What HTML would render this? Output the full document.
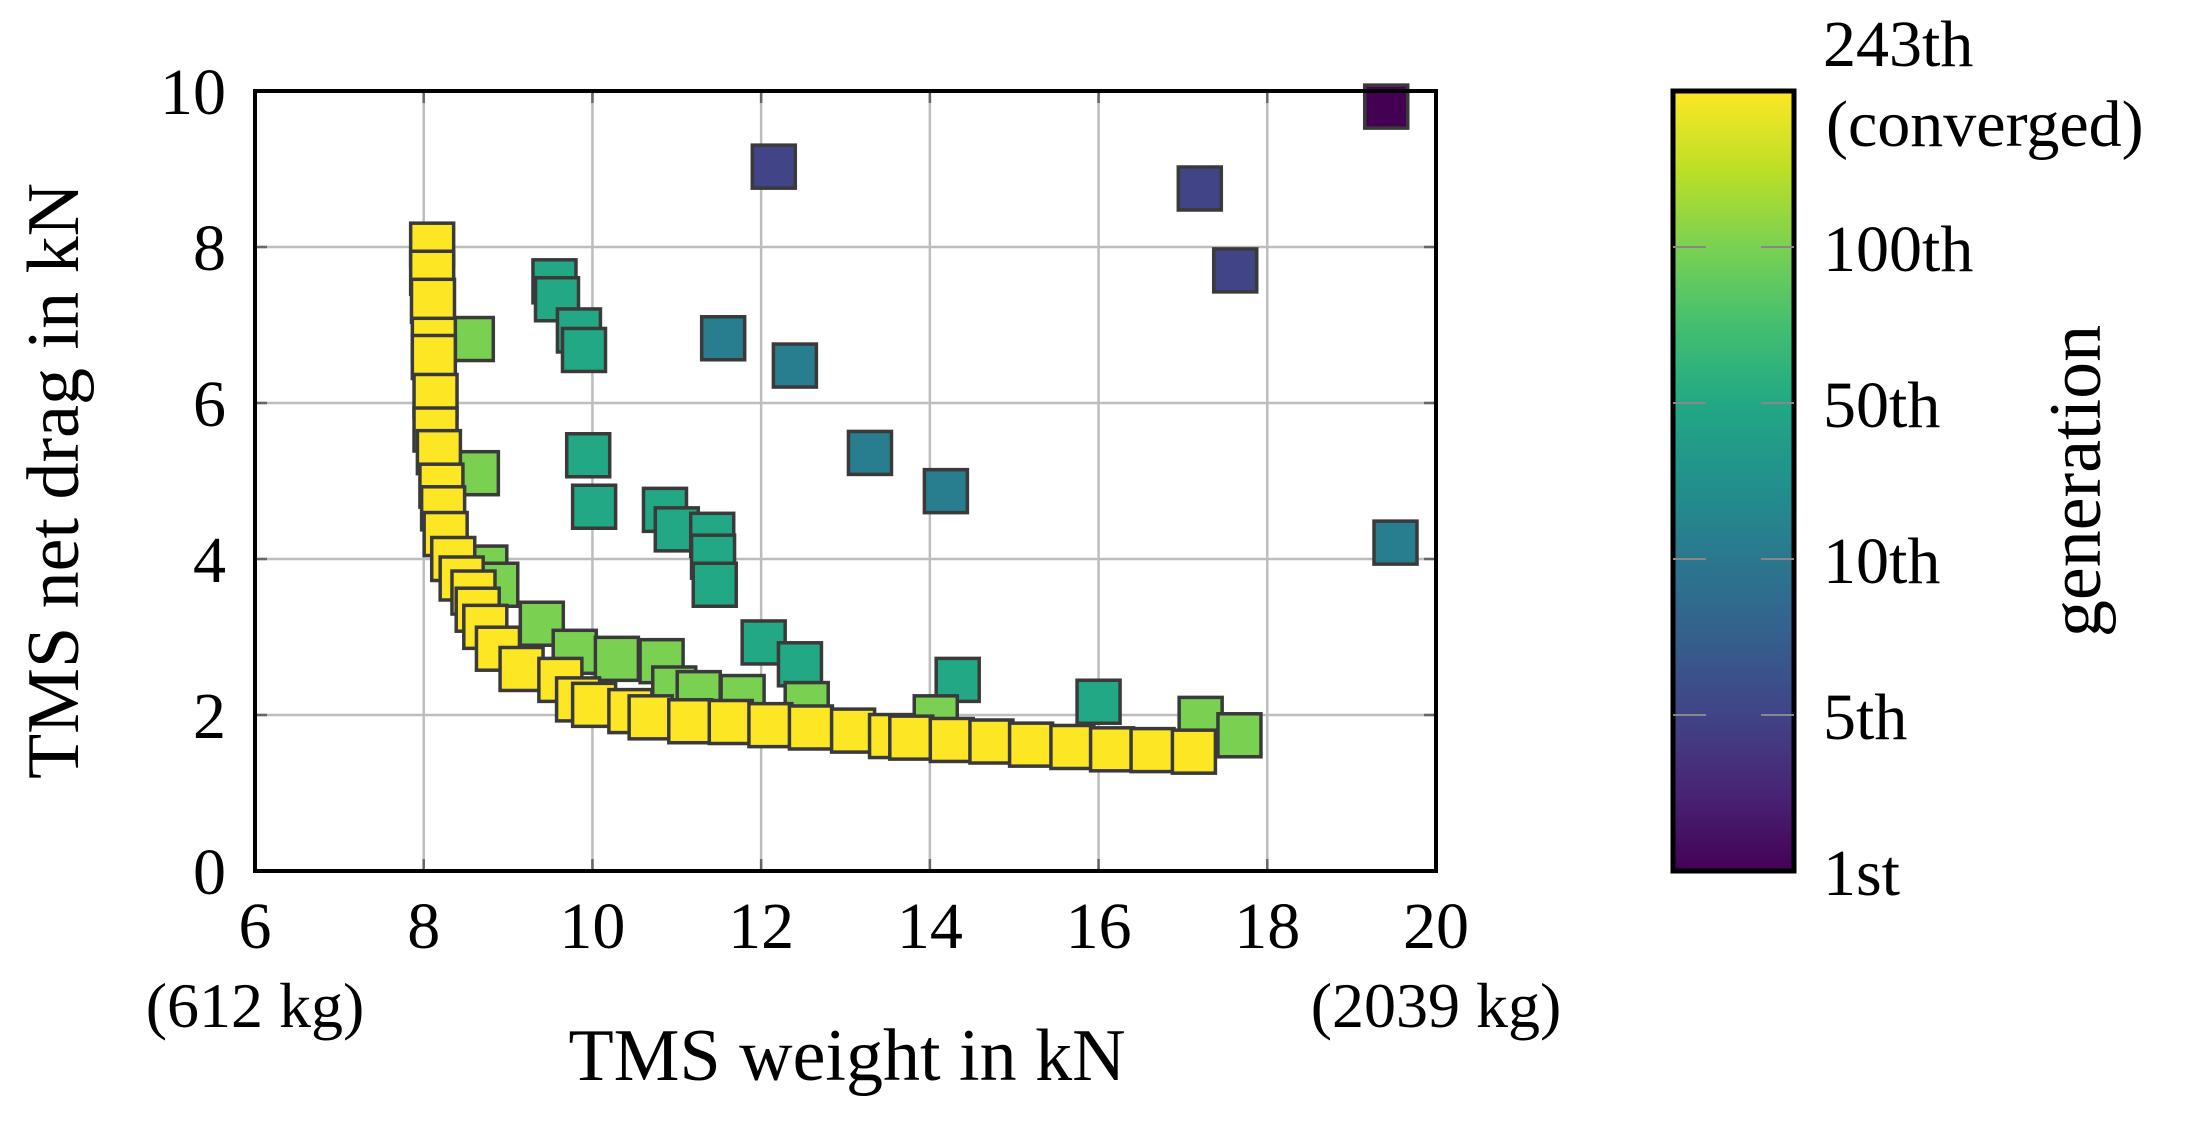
<!DOCTYPE html>
<html><head><meta charset="utf-8"><style>
html,body{margin:0;padding:0;background:#fff;}
svg{display:block;font-family:"Liberation Serif",serif;}
</style></head><body>
<svg id="chart" width="2199" height="1122" viewBox="0 0 2199 1122">
<defs>
<linearGradient id="vir" x1="0" y1="1" x2="0" y2="0">
<stop offset="0" stop-color="#440154"/><stop offset="0.1" stop-color="#482475"/><stop offset="0.2" stop-color="#414487"/><stop offset="0.3" stop-color="#355f8d"/><stop offset="0.4" stop-color="#2a788e"/><stop offset="0.5" stop-color="#21918c"/><stop offset="0.6" stop-color="#22a884"/><stop offset="0.7" stop-color="#44bf70"/><stop offset="0.8" stop-color="#7ad151"/><stop offset="0.9" stop-color="#bddf26"/><stop offset="1" stop-color="#fde725"/>
</linearGradient>
</defs>
<g id="grid"></g>
<g id="marks"></g>
<g id="axes"></g>
</svg>
<script>
const xTicks = [6,8,10,12,14,16,18,20];
const yTicks = [0,2,4,6,8,10];
const cbTicks = [1,5,10,50,100,243];
const cbLabels = ["1st","5th","10th","50th","100th","243th"];
const xs = [19.41,12.15,17.2,17.62, 11.55,12.4,13.29,14.19,19.52,
 9.55,9.58,9.84,9.9,9.95,10.02,10.86,11.0,11.42,11.43,11.45,12.03,12.46,14.33,16.0,
 8.57,8.63,8.73,8.86,9.4,9.79,10.29,10.82,10.97,11.26,11.78,12.54,14.07,17.21,17.67,
 8.1,8.1,8.11,8.12,8.12,8.14,8.14,8.18,8.21,8.23,8.26,8.35,8.45,8.59,8.64,8.73,8.88,9.16,9.62,9.83,10.02,10.45,10.69,11.16,11.64,12.11,12.59,13.09,13.54,13.78,14.26,14.73,15.2,15.69,16.16,16.64,17.13];
const ys = [9.80,9.03,8.75,7.70, 6.83,6.48,5.36,4.87,4.21,
 7.56,7.33,6.93,6.68,5.33,4.67,4.63,4.38,4.31,4.03,3.67,2.93,2.65,2.45,2.17,
 6.82,5.10,3.89,3.67,3.17,2.81,2.72,2.69,2.34,2.28,2.23,2.14,1.97,1.95,1.74,
 8.03,7.67,7.31,6.81,6.59,6.09,5.66,5.37,4.94,4.65,4.32,4.0,3.75,3.57,3.35,3.13,2.85,2.59,2.45,2.2,2.13,2.05,1.97,1.92,1.91,1.87,1.84,1.8,1.73,1.71,1.68,1.66,1.62,1.59,1.56,1.55,1.53];
const gens = [1,5,5,5, 14,14,14,14,14,
 50,50,50,50,50,50,50,50,50,50,50,50,50,50,50,
 100,100,100,100,100,100,100,100,100,100,100,100,100,100,100,
 243,243,243,243,243,243,243,243,243,243,243,243,243,243,243,243,243,243,243,243,243,243,243,243,243,243,243,243,243,243,243,243,243,243,243,243,243];

const L=255,R=1436,T=91,B=871;
const sx=v=>L+(v-6)/(20-6)*(R-L);
const sy=v=>B-(v/10)*(B-T);
const NS="http://www.w3.org/2000/svg";
function mk(tag,attrs,parent){const e=document.createElementNS(NS,tag);for(const k in attrs)e.setAttribute(k,attrs[k]);parent.appendChild(e);return e;}
const vir=[[68,1,84],[72,36,117],[65,68,135],[53,95,141],[42,120,142],[33,145,140],[34,168,132],[68,191,112],[122,209,81],[189,223,38],[253,231,37]];
function genFrac(g){for(let i=0;i<cbTicks.length-1;i++){if(g<=cbTicks[i+1]){return (i+(g-cbTicks[i])/(cbTicks[i+1]-cbTicks[i]))/(cbTicks.length-1);}}return 1;}
function color(f){const p=f*10,i=Math.min(9,Math.floor(p)),t=p-i;const a=vir[i],b=vir[i+1];return `rgb(${a.map((v,k)=>Math.round(v+(b[k]-v)*t)).join(',')})`;}

const grid=document.getElementById('grid'),marks=document.getElementById('marks'),axes=document.getElementById('axes');
xTicks.forEach(t=>{const x=sx(t);
 const g=mk('line',{x1:x,x2:x,y1:T,y2:B,stroke:'#bdbdbd','stroke-width':2.5},grid);
 
 
 mk('line',{x1:x,x2:x,y1:B,y2:B-12,stroke:'#666','stroke-width':2.5},grid);
 mk('line',{x1:x,x2:x,y1:T,y2:T+12,stroke:'#666','stroke-width':2.5},grid);
 const tx=mk('text',{x:x,y:948,'font-size':66,'text-anchor':'middle',fill:'#000'},axes);tx.textContent=t;
 
 
});
yTicks.forEach(t=>{const y=sy(t);
 const g=mk('line',{x1:L,x2:R,y1:y,y2:y,stroke:'#bdbdbd','stroke-width':2.5},grid);
 
 
 mk('line',{x1:L,x2:L+12,y1:y,y2:y,stroke:'#666','stroke-width':2.5},grid);
 mk('line',{x1:R,x2:R-12,y1:y,y2:y,stroke:'#666','stroke-width':2.5},grid);
 const tx=mk('text',{x:226,y:y+23,'font-size':66,'text-anchor':'end',fill:'#000'},axes);tx.textContent=t;
 
 
});
const S=43;
const order=xs.map((_,i)=>i).sort((a,b)=>gens[a]-gens[b]);
order.forEach(i=>{
 const r=mk('rect',{x:sx(xs[i])-S/2,y:sy(ys[i])-S/2,width:S,height:S,fill:color(genFrac(gens[i])),stroke:'#3a3a3a','stroke-width':3.5},marks);
 
 
});
const fr=mk('rect',{x:L,y:T,width:R-L,height:B-T,fill:'none',stroke:'#000','stroke-width':4},axes);


function txt(s,attrs,name){const e=mk('text',Object.assign({fill:'#000'},attrs),axes);e.textContent=s;
 
 return e;}
txt('(612 kg)',{x:255,y:1027,'font-size':64,'text-anchor':'middle'},'x-min-mass-label');
txt('(2039 kg)',{x:1436,y:1027,'font-size':64,'text-anchor':'middle'},'x-max-mass-label');
txt('TMS weight in kN',{x:847,y:1080,'font-size':74,'text-anchor':'middle'},'x-axis-title');
txt('TMS net drag in kN',{x:0,y:0,'font-size':74,'text-anchor':'middle',transform:'translate(78,481) rotate(-90)'},'y-axis-title');
const CL=1673,CR=1794;
const cb=mk('rect',{x:CL,y:T,width:CR-CL,height:B-T,fill:'url(#vir)',stroke:'#000','stroke-width':5},axes);


cbTicks.forEach((g,i)=>{const y=B-genFrac(g)*(B-T);
 if(i>0&&i<cbTicks.length-1){mk('line',{x1:CL,x2:CL+33,y1:y,y2:y,stroke:'#888','stroke-width':2},axes);mk('line',{x1:CR-33,x2:CR,y1:y,y2:y,stroke:'#888','stroke-width':2},axes);}
 const ty = i===cbTicks.length-1 ? 66 : y+24;
 txt(cbLabels[i],{x:1823,y:ty,'font-size':66},'colorbar-tick-label');
});
txt('(converged)',{x:1826,y:146,'font-size':66},'colorbar-converged-label');
txt('generation',{x:0,y:0,'font-size':74,'text-anchor':'middle',transform:'translate(2100,481) rotate(-90)'},'colorbar-title');
</script>
</body></html>
